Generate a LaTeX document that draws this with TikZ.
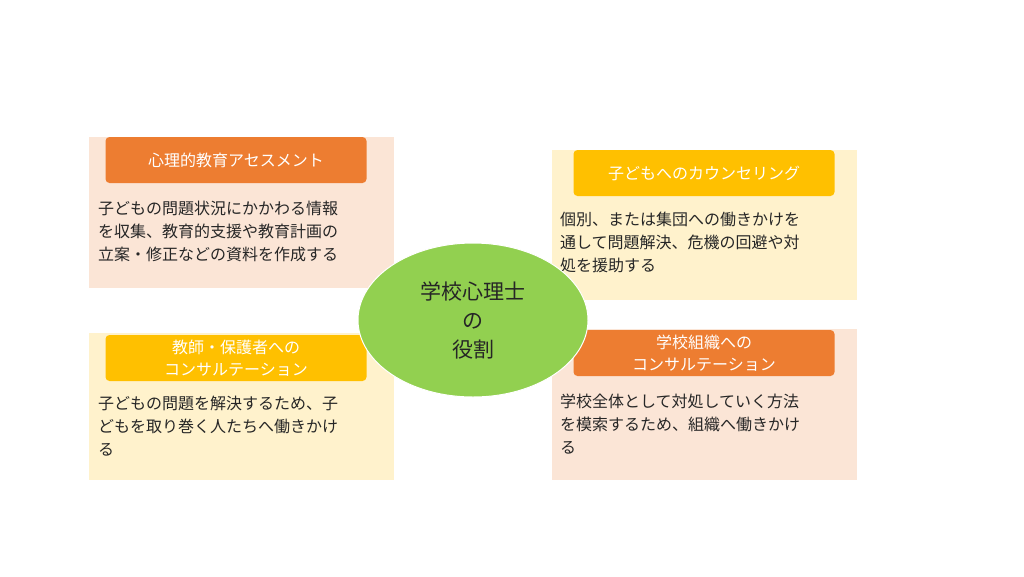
\documentclass[tikz,border=0pt]{standalone}
\usepackage{fontspec}
\setmainfont{Noto Sans CJK JP}
\usetikzlibrary{positioning}
\definecolor{peach}{HTML}{FBE5D6}
\definecolor{cream}{HTML}{FFF2CC}
\definecolor{orangehead}{HTML}{ED7D31}
\definecolor{yellowhead}{HTML}{FFC000}
\definecolor{leaf}{HTML}{92D050}
\tikzset{
  panel/.style={anchor=north west,inner sep=0,minimum width=305pt},
  head/.style={rounded corners=4pt,text=white,minimum width=261pt,minimum height=46pt,inner sep=0,align=center,font=\fontsize{16}{22}\selectfont},
  body/.style={anchor=north west,align=left,inner sep=0,font=\fontsize{16}{23}\selectfont,text=black!85}
}
\begin{document}
\begin{tikzpicture}[x=1pt,y=-1pt]
  \useasboundingbox (0,0) rectangle (1024,576);

  %背景パネル
  \node[panel,fill=peach,minimum height=151pt] (p1) at (89,137) {};
  \node[panel,fill=cream,minimum height=147pt] (p2) at (89,333) {};
  \node[panel,fill=cream,minimum height=150pt] (p3) at (552,150) {};
  \node[panel,fill=peach,minimum height=151pt] (p4) at (552,329) {};

  %見出し
  \node[head,fill=orangehead] (h1) at (236,160) {心理的教育アセスメント};
  \node[head,fill=yellowhead] (h2) at (236,358) {教師・保護者への\\コンサルテーション};
  \node[head,fill=yellowhead] (h3) at (704,173) {子どもへのカウンセリング};
  \node[head,fill=orangehead] (h4) at (704,353) {学校組織への\\コンサルテーション};

  %本文
  \node[body] (b1) at (98,201) {子どもの問題状況にかかわる情報\\を収集、教育的支援や教育計画の\\立案・修正などの資料を作成する};
  \node[body] (b2) at (98,396) {子どもの問題を解決するため、子\\どもを取り巻く人たちへ働きかけ\\る};
  \node[body] (b3) at (560,212) {個別、または集団への働きかけを\\通して問題解決、危機の回避や対\\処を援助する};
  \node[body] (b4) at (560,394) {学校全体として対処していく方法\\を模索するため、組織へ働きかけ\\る};

  %中央
  \draw[fill=leaf,draw=white,line width=1pt] (473,320) ellipse (115pt and 77pt);
  \node[align=center,font=\fontsize{21}{29}\selectfont,text=black!85] (center) at (473,320) {学校心理士\\の\\役割};
\end{tikzpicture}
\end{document}
